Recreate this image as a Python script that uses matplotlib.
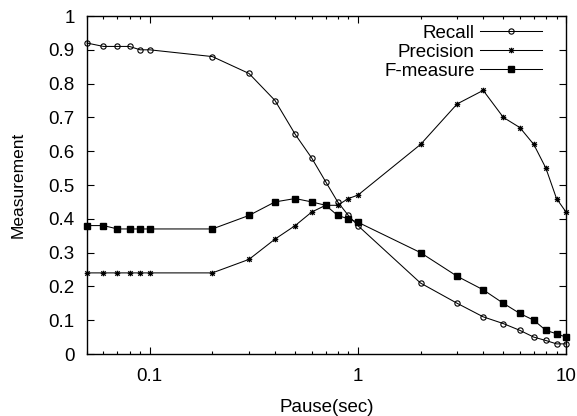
import matplotlib
matplotlib.use("Agg")
import matplotlib.pyplot as plt
from matplotlib.path import Path
import numpy as np

plt.rcParams['font.family'] = ['Liberation Sans', 'DejaVu Sans']

pause = [0.05, 0.06, 0.07, 0.08, 0.09, 0.1, 0.2, 0.3, 0.4, 0.5, 0.6, 0.7,
         0.8, 0.9, 1, 2, 3, 4, 5, 6, 7, 8, 9, 10]
recall = [0.92, 0.91, 0.91, 0.91, 0.90, 0.90, 0.88, 0.83, 0.75, 0.65, 0.58, 0.51,
          0.45, 0.41, 0.38, 0.21, 0.15, 0.11, 0.09, 0.07, 0.05, 0.04, 0.03, 0.03]
precision = [0.24, 0.24, 0.24, 0.24, 0.24, 0.24, 0.24, 0.28, 0.34, 0.38, 0.42, 0.44,
             0.44, 0.46, 0.47, 0.62, 0.74, 0.78, 0.70, 0.67, 0.62, 0.55, 0.46, 0.42]
fmeasure = [0.38, 0.38, 0.37, 0.37, 0.37, 0.37, 0.37, 0.41, 0.45, 0.46, 0.45, 0.44,
            0.41, 0.40, 0.39, 0.30, 0.23, 0.19, 0.15, 0.12, 0.10, 0.07, 0.06, 0.05]

yticks = [0, 0.1, 0.2, 0.3, 0.4, 0.5, 0.6, 0.7, 0.8, 0.9, 1]
ytick_labels = ['0', '0.1', '0.2', '0.3', '0.4', '0.5', '0.6', '0.7', '0.8', '0.9', '1']
xticks = [0.1, 1, 10]
xtick_labels = ['0.1', '1', '10']

# gnuplot-like asterisk marker (+ and x overlaid)
verts = [(-1, 0), (1, 0), (0, -1), (0, 1),
         (-0.8, -0.8), (0.8, 0.8), (-0.8, 0.8), (0.8, -0.8)]
codes = [Path.MOVETO, Path.LINETO] * 4
star = Path(verts, codes)

fig = plt.figure(figsize=(5.77, 4.16), dpi=100)
ax = fig.add_axes([0.1508, 0.149, 0.981 - 0.1508, 0.9615 - 0.149])

lw = 0.75
fs = 13.5
ax.plot(pause, recall, color='black', lw=lw, marker='o', markersize=3.8,
        markerfacecolor='none', markeredgewidth=0.8, label='Recall', clip_on=False)
ax.plot(pause, precision, color='black', lw=lw, marker=star, markersize=4,
        markeredgewidth=0.9, label='Precision', clip_on=False)
ax.plot(pause, fmeasure, color='black', lw=lw, marker='s', markersize=4,
        label='F-measure', clip_on=False)

ax.set_xscale('log')
ax.set_xlim(0.05, 10)
ax.set_ylim(0, 1)
ax.set_xticks(xticks)
ax.set_xticklabels(xtick_labels)
ax.set_yticks(yticks)
ax.set_yticklabels(ytick_labels)
ax.tick_params(which='both', direction='in', top=True, right=True, labelsize=fs,
               width=0.8)
ax.tick_params(which='major', length=5)
ax.tick_params(axis='y', which='major', pad=9)
ax.tick_params(axis='x', which='major', pad=10)
ax.tick_params(which='minor', length=2.5)
ax.tick_params(axis='y', which='minor', left=False, right=False)
for s in ax.spines.values():
    s.set_linewidth(1.0)

ax.set_xlabel('Pause(sec)', fontsize=fs, labelpad=10)
ax.set_ylabel('Measurement', fontsize=12.5, labelpad=16)

leg = ax.legend(loc='upper right', bbox_to_anchor=(0.95, 0.975), frameon=False,
                markerfirst=False, fontsize=fs, handlelength=3.3,
                borderaxespad=0, borderpad=0, labelspacing=0.1,
                handletextpad=0.3)
for t in leg.get_texts():
    t.set_ha('right')

fig.savefig('out.png', dpi=100)
